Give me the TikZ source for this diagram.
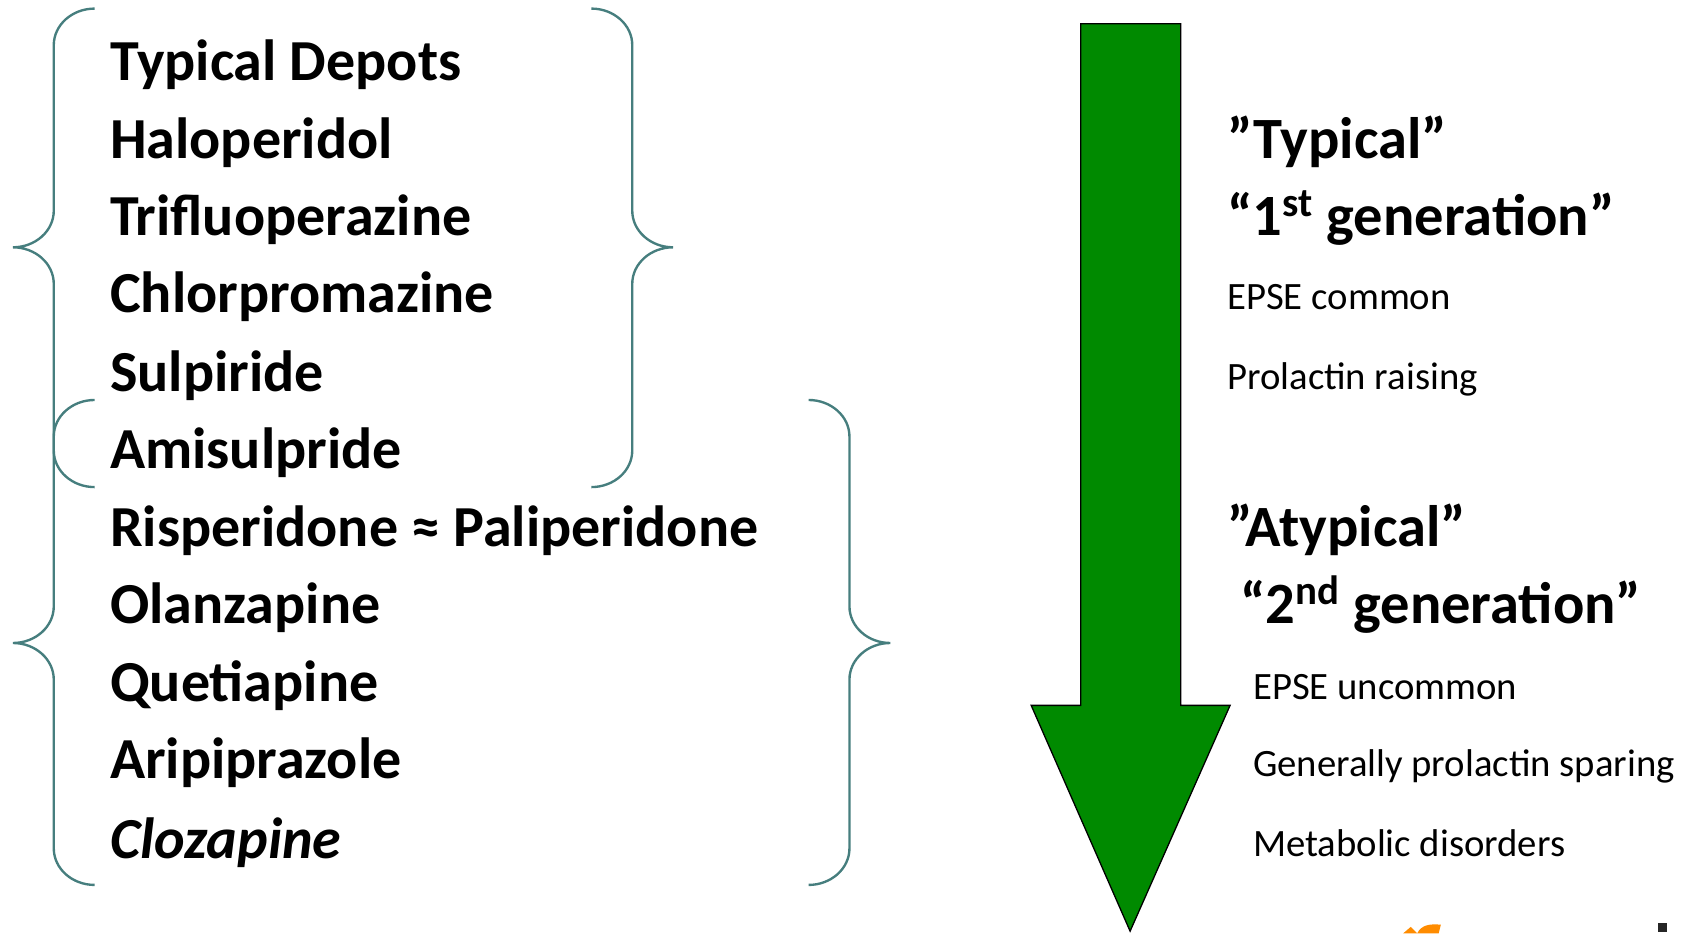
\documentclass[tikz,border=0pt]{standalone}
\usepackage{fontspec}
\setmainfont{Carlito}
\usepackage{tikz}
\usetikzlibrary{positioning}

\definecolor{bracecol}{RGB}{70,126,126}
\definecolor{arrowgreen}{RGB}{0,138,0}

\begin{document}
\begin{tikzpicture}[
        x=0.5pt, y=0.5pt,
        drug/.style={anchor=base west, inner sep=0pt, font=\fontsize{27}{30}\selectfont\bfseries},
        head/.style={anchor=base west, inner sep=0pt, font=\fontsize{27.2}{30}\selectfont\bfseries},
        note/.style={anchor=base west, inner sep=0pt, font=\fontsize{18}{20}\selectfont},
        bracket/.style={draw=bracecol, line width=1.1pt},
        bigarrow/.style={fill=arrowgreen, draw=black, line width=0.6pt, line join=miter}
    ]
    \useasboundingbox (0,0) rectangle (1568,868);

    % Drug list
    \node[drug] (depots) at (102,793) {Typical Depots};
    \node[drug] (halo)   at (102,721) {Haloperidol};
    \node[drug] (triflu) at (102,649) {Trifluoperazine};
    \node[drug] (chlor)  at (102,577) {Chlorpromazine};
    \node[drug] (sulp)   at (102,504) {Sulpiride};
    \node[drug] (amisul) at (102,432) {Amisulpride};
    \node[drug] (risp)   at (102,360) {Risperidone ≈ Paliperidone};
    \node[drug] (olanz)  at (102,288) {Olanzapine};
    \node[drug] (quet)   at (102,216) {Quetiapine};
    \node[drug] (arip)   at (102,144) {Aripiprazole};
    \node[drug, font=\fontsize{27}{30}\selectfont\bfseries\itshape] (cloz) at (102,70) {Clozapine};

    % Braces, typical group
    \draw[bracket] (88,860) arc[start angle=90, end angle=180, x radius=38, y radius=34]
        -- (50,672) arc[start angle=0, end angle=-90, x radius=38, y radius=34]
        arc[start angle=90, end angle=0, x radius=38, y radius=34]
        -- (50,449) arc[start angle=180, end angle=270, x radius=38, y radius=34];
    \draw[bracket] (550,860) arc[start angle=90, end angle=0, x radius=38, y radius=34]
        -- (588,672) arc[start angle=180, end angle=270, x radius=38, y radius=34]
        arc[start angle=90, end angle=180, x radius=38, y radius=34]
        -- (588,449) arc[start angle=0, end angle=-90, x radius=38, y radius=34];

    % Braces, atypical group
    \draw[bracket] (88,496) arc[start angle=90, end angle=180, x radius=38, y radius=34]
        -- (50,304) arc[start angle=0, end angle=-90, x radius=38, y radius=34]
        arc[start angle=90, end angle=0, x radius=38, y radius=34]
        -- (50,79) arc[start angle=180, end angle=270, x radius=38, y radius=34];
    \draw[bracket] (752,496) arc[start angle=90, end angle=0, x radius=38, y radius=34]
        -- (790,304) arc[start angle=180, end angle=270, x radius=38, y radius=34]
        arc[start angle=90, end angle=180, x radius=38, y radius=34]
        -- (790,79) arc[start angle=0, end angle=-90, x radius=38, y radius=34];

    % Green arrow
    \draw[bigarrow] (1005,846) -- (1098,846) -- (1098,212) -- (1144,212)
        -- (1051,2) -- (959,212) -- (1005,212) -- cycle;

    % Right-hand labels
    \node[head] (typical) at (1141,721) {”Typical”};
    \node[head] (first)   at (1141,649) {“1\textsuperscript{st} generation”};
    \node[note] (epse1)   at (1141,580) {EPSE common};
    \node[note] (prol1)   at (1141,506) {Prolactin raising};
    \node[head] (atypical) at (1141,360) {”Atypical”};
    \node[head] (second)   at (1153,288) {“2\textsuperscript{nd} generation”};
    \node[note] (epse2)   at (1165,217) {EPSE uncommon};
    \node[note] (prol2)   at (1165,146) {Generally prolactin sparing};
    \node[note] (metab)   at (1165,71) {Metabolic disorders};

    % Logo fragments at the bottom edge
    \fill[orange!90!yellow] (1305,0) -- (1312,6) -- (1318,0) -- cycle;
    \fill[orange!90!yellow] (1318,0) .. controls (1322,8) and (1330,9) .. (1340,8) -- (1338,0) -- cycle;
    \fill[black!85] (1542,1) rectangle (1550,10);
\end{tikzpicture}
\end{document}
